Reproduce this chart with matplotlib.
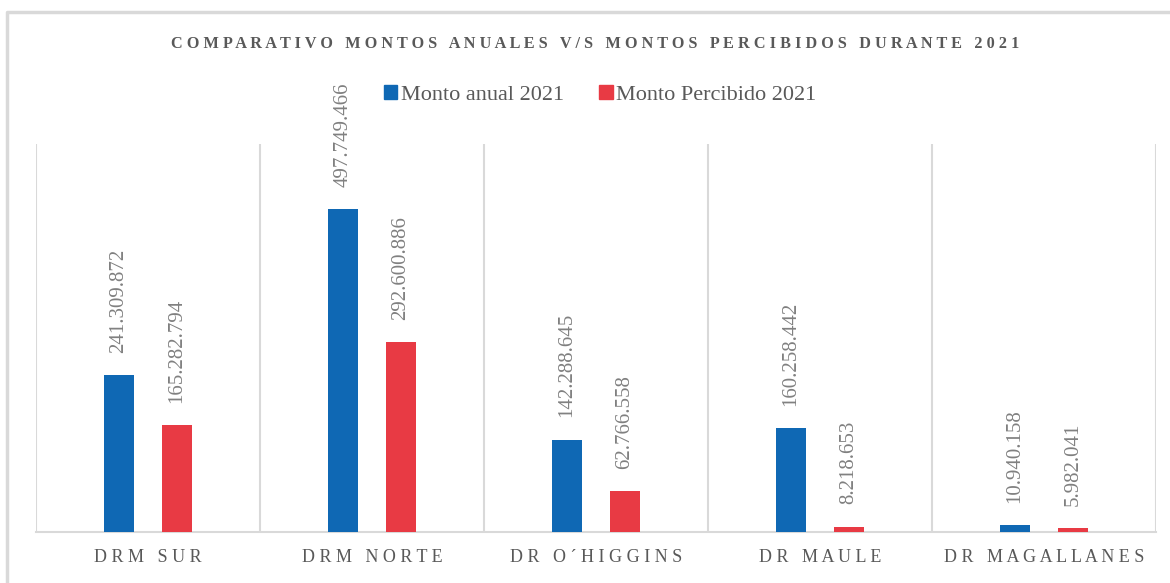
import numpy as np
import matplotlib.pyplot as plt
from matplotlib.lines import Line2D
from matplotlib.patches import Patch

categorias = ["DRM SUR", "DRM NORTE", "DR O´HIGGINS", "DR MAULE", "DR MAGALLANES"]
monto_anual = [241309872, 497749466, 142288645, 160258442, 10940158]
monto_percibido = [165282794, 292600886, 62766558, 8218653, 5982041]
series = ["Monto anual 2021", "Monto Percibido 2021"]

AZUL = "#0F68B4"
ROJO = "#E83A44"
GRIS = "#595959"
SERIF = "Liberation Serif"


def espaciado(s):
    # imita el espaciado de letras del original
    return " ".join(list(s))


def fmt(v):
    return f"{v:,}".replace(",", ".")


fig = plt.figure(figsize=(11.7, 5.83), dpi=100)
ax = fig.add_axes([36 / 1170, 1 - 532 / 583, (1156 - 36) / 1170, (532 - 144) / 583])

x = np.arange(len(categorias))
w = 0.134
off = 0.13
b1 = ax.bar(x - off, monto_anual, w, color=AZUL, zorder=3)
b2 = ax.bar(x + off, monto_percibido, w, color=ROJO, zorder=3)

for barras, vals in ((b1, monto_anual), (b2, monto_percibido)):
    for b, v in zip(barras, vals):
        ax.annotate(fmt(v), (b.get_x() + b.get_width() / 2, v),
                    xytext=(0, 16), textcoords="offset points",
                    rotation=90, ha="center", va="bottom",
                    fontsize=15, family=SERIF, color="#808080",
                    annotation_clip=False, clip_on=False)

ax.set_xlim(-0.5, len(categorias) - 0.5)
ax.set_ylim(0, 598e6)
for xv in np.arange(-0.5, len(categorias), 1.0):
    ax.axvline(xv, color="#d9d9d9", lw=1.5, zorder=1)

for s in ["top", "left", "right"]:
    ax.spines[s].set_visible(False)
ax.spines["bottom"].set_color("#d9d9d9")
ax.spines["bottom"].set_linewidth(1.5)
ax.set_yticks([])
ax.set_xticks(x)
ax.set_xticklabels([espaciado(c) for c in categorias], fontsize=13,
                   family=SERIF, color=GRIS)
ax.tick_params(axis="x", length=0, pad=12)
ax.patch.set_alpha(0)

fig.text(595 / 1170, 1 - 44 / 583, espaciado("COMPARATIVO MONTOS ANUALES V/S MONTOS PERCIBIDOS DURANTE 2021"),
         ha="center", va="center", fontsize=11.7, fontweight="bold",
         family=SERIF, color=GRIS)

handles = [Patch(color=AZUL), Patch(color=ROJO)]
fig.legend(handles, series, loc="center", bbox_to_anchor=(600 / 1170, 1 - 95 / 583),
           ncol=2, frameon=False, handlelength=0.6, handleheight=0.6,
           handletextpad=0.15, columnspacing=1.6,
           prop={"family": SERIF, "size": 16}, labelcolor=GRIS)

# marco exterior
fig.add_artist(Line2D([7 / 1170, 7 / 1170, 1.0], [0.0, 1 - 12 / 583, 1 - 12 / 583],
                      transform=fig.transFigure, color="#d9d9d9", lw=2.5))

fig.savefig("out.png", dpi=100)
